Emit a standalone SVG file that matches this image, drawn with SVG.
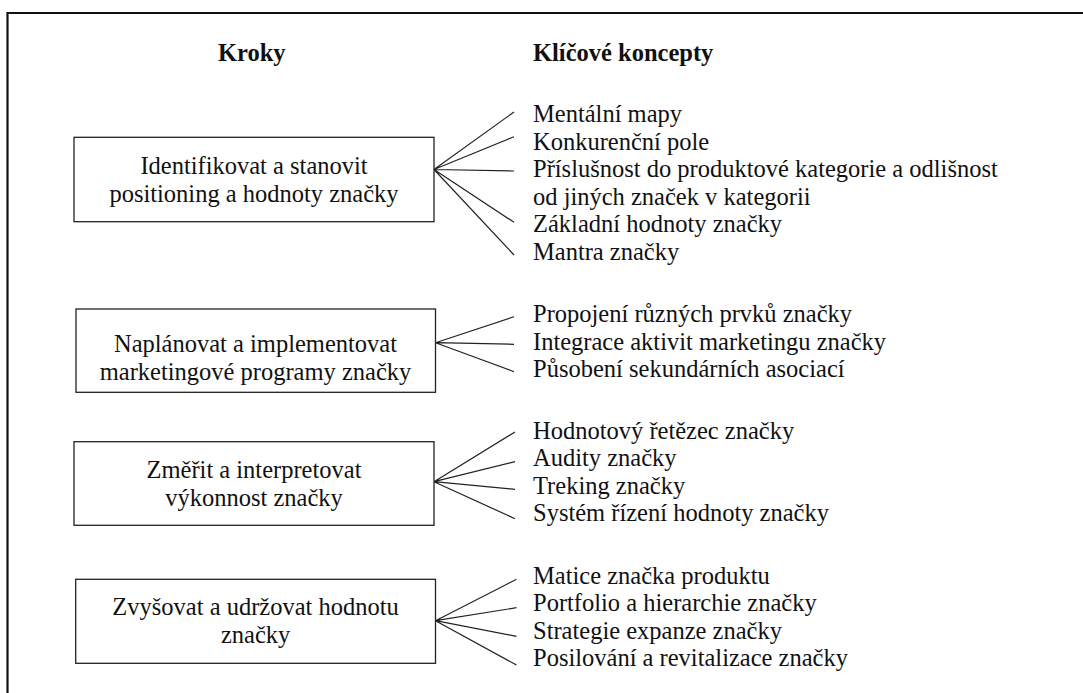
<svg xmlns="http://www.w3.org/2000/svg" width="1083" height="693" viewBox="0 0 1083 693">
<rect width="1083" height="693" fill="#fff"/>
<path d="M7.5,700 V13 H1090" fill="none" stroke="#111" stroke-width="2.2"/>
<g id="headers" font-family="Times New Roman" font-size="24.5" font-weight="bold" fill="#111">
<text x="218" y="61">Kroky</text>
<text x="533" y="61">Klíčové koncepty</text>
</g>
<g id="connectors" stroke="#222" stroke-width="1.2" fill="none">
<path d="M434,169.5 L514,112 M434,169.5 L514,136.7 M434,169.5 L514,171 M434,169.5 L514,222.3 M434,169.5 L514,255"/>
<path d="M435.5,342.7 L514,316.7 M435.5,342.7 L514,344.3 M435.5,342.7 L514,371.7"/>
<path d="M434,481.7 L515,432 M434,481.7 L515,461.7 M434,481.7 L515,489.3 M434,481.7 L515,518.7"/>
<path d="M435.5,620.7 L516.5,579.3 M435.5,620.7 L516.5,607.7 M435.5,620.7 L516.5,636.3 M435.5,620.7 L516.5,665"/>
</g>
<g id="step1" font-family="Times New Roman" font-size="24.5" fill="#111" text-anchor="middle">
<rect x="74" y="137.3" width="360" height="84.4" fill="#fff" stroke="#222" stroke-width="1.3"/>
<text x="254" y="174">Identifikovat a stanovit</text>
<text x="254" y="201.5">positioning a hodnoty značky</text>
</g>
<g id="step2" font-family="Times New Roman" font-size="24.5" fill="#111" text-anchor="middle">
<rect x="76" y="309" width="359.5" height="83.3" fill="#fff" stroke="#222" stroke-width="1.3"/>
<text x="255.5" y="352">Naplánovat a implementovat</text>
<text x="255.5" y="379.5">marketingové programy značky</text>
</g>
<g id="step3" font-family="Times New Roman" font-size="24.5" fill="#111" text-anchor="middle">
<rect x="74" y="441.7" width="360" height="83.6" fill="#fff" stroke="#222" stroke-width="1.3"/>
<text x="254" y="478.3">Změřit a interpretovat</text>
<text x="254" y="505.8">výkonnost značky</text>
</g>
<g id="step4" font-family="Times New Roman" font-size="24.5" fill="#111" text-anchor="middle">
<rect x="75.7" y="579.3" width="359.8" height="84" fill="#fff" stroke="#222" stroke-width="1.3"/>
<text x="255.6" y="615">Zvyšovat a udržovat hodnotu</text>
<text x="255.6" y="642.5">značky</text>
</g>
<g id="concepts1" font-family="Times New Roman" font-size="24.5" fill="#111">
<text x="533" y="122">Mentální mapy</text>
<text x="533" y="149.5">Konkurenční pole</text>
<text x="533" y="177">Příslušnost do produktové kategorie a odlišnost</text>
<text x="533" y="204.5">od jiných značek v kategorii</text>
<text x="533" y="232">Základní hodnoty značky</text>
<text x="533" y="259.5">Mantra značky</text>
</g>
<g id="concepts2" font-family="Times New Roman" font-size="24.5" fill="#111">
<text x="533" y="322">Propojení různých prvků značky</text>
<text x="533" y="349.5">Integrace aktivit marketingu značky</text>
<text x="533" y="377">Působení sekundárních asociací</text>
</g>
<g id="concepts3" font-family="Times New Roman" font-size="24.5" fill="#111">
<text x="533" y="438.5">Hodnotový řetězec značky</text>
<text x="533" y="466">Audity značky</text>
<text x="533" y="493.5">Treking značky</text>
<text x="533" y="521">Systém řízení hodnoty značky</text>
</g>
<g id="concepts4" font-family="Times New Roman" font-size="24.5" fill="#111">
<text x="533" y="583.5">Matice značka produktu</text>
<text x="533" y="611">Portfolio a hierarchie značky</text>
<text x="533" y="638.5">Strategie expanze značky</text>
<text x="533" y="666">Posilování a revitalizace značky</text>
</g>
</svg>
